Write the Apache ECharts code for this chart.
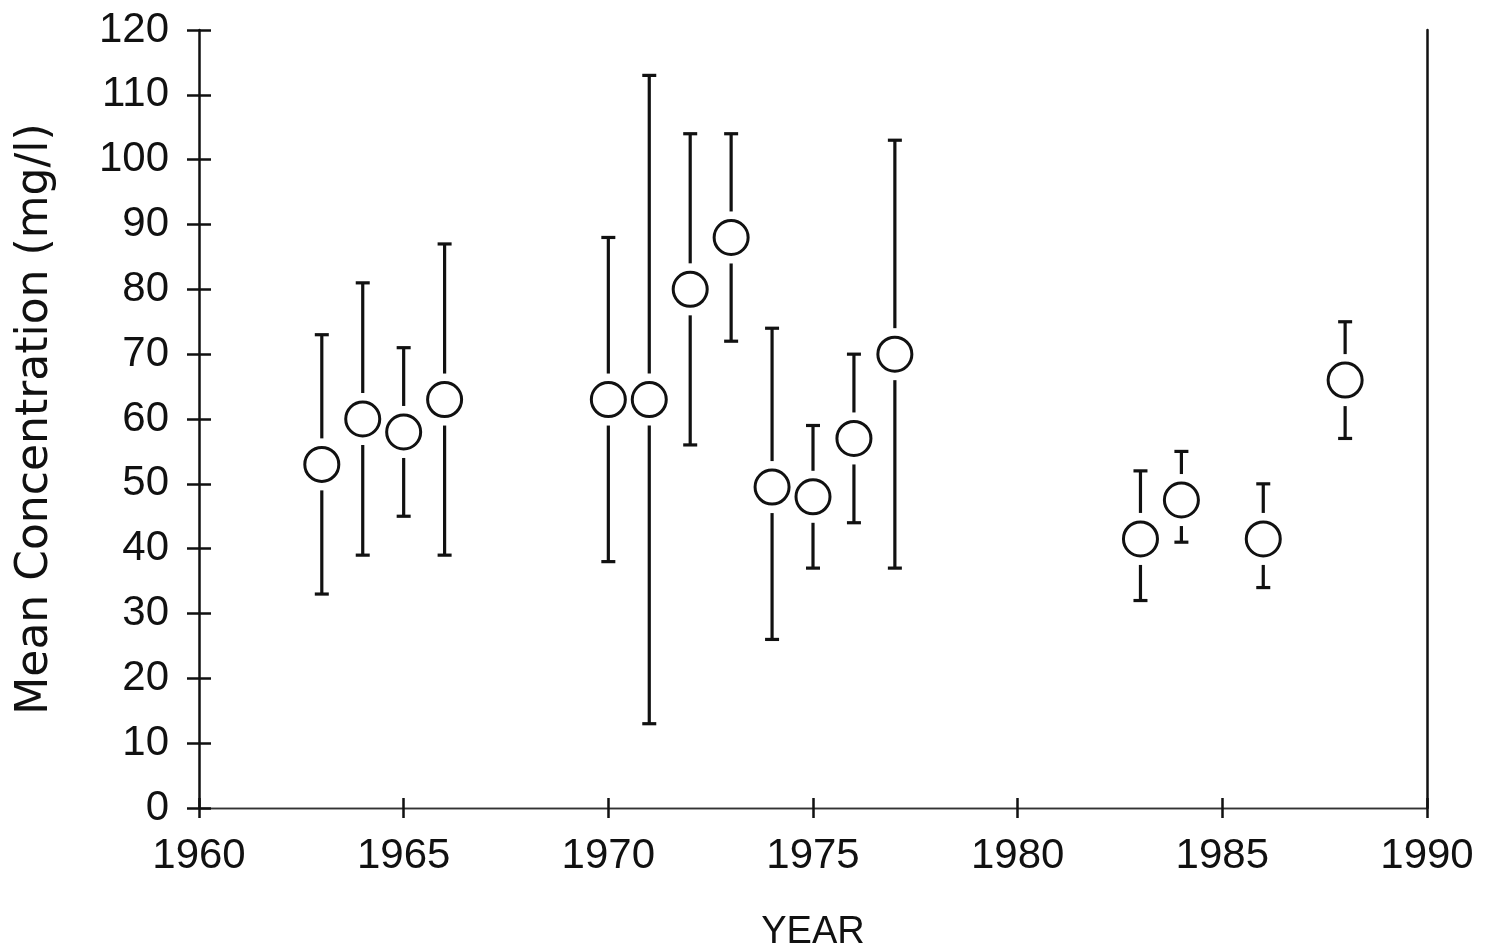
<!DOCTYPE html>
<html>
<head>
<meta charset="utf-8">
<script src="https://cdn.jsdelivr.net/npm/echarts@6/dist/echarts.min.js"></script>
<style>
html,body{margin:0;padding:0;background:#fff;}
#chart{width:1487px;height:947px;}
</style>
</head>
<body>
<div id="chart"></div>
<script>
// Data
var years = [1963, 1964, 1965, 1966, 1970, 1971, 1972, 1973, 1974, 1975, 1976, 1977, 1983, 1984, 1986, 1988];
var means = [53, 60, 58, 63, 63, 63, 80, 88, 49.5, 48, 57, 70, 41.5, 47.5, 41.5, 66];
var lows  = [33, 39, 45, 39, 38, 13, 56, 72, 26, 37, 44, 37, 32, 41, 34, 57];
var highs = [73, 81, 71, 87, 88, 113, 104, 104, 74, 59, 70, 103, 52, 55, 50, 75];
var xTicks = [1960, 1965, 1970, 1975, 1980, 1985, 1990];
var yTicks = [0, 10, 20, 30, 40, 50, 60, 70, 80, 90, 100, 110, 120];

var FONT = 'Liberation Sans, Arial, sans-serif';
var FONT_WIDE = 'DejaVu Sans, Verdana, sans-serif';
var INK = '#111';

var meanData = years.map(function (y, i) { return [y, means[i]]; });
var barData = years.map(function (y, i) { return [y, means[i], lows[i], highs[i]]; });

var R = 18, GAP = 8, CAP = 7;

function renderErr(params, api) {
  var c = api.coord([api.value(0), api.value(1)]);
  var lo = api.coord([api.value(0), api.value(2)]);
  var hi = api.coord([api.value(0), api.value(3)]);
  var x = c[0];
  var st = { stroke: INK, lineWidth: 3.2 };
  var kids = [];
  var topEnd = c[1] - R - GAP;
  var botStart = c[1] + R + GAP;
  if (hi[1] < topEnd) kids.push({ type: 'line', shape: { x1: x, y1: hi[1], x2: x, y2: topEnd }, style: st });
  if (lo[1] > botStart) kids.push({ type: 'line', shape: { x1: x, y1: botStart, x2: x, y2: lo[1] }, style: st });
  kids.push({ type: 'line', shape: { x1: x - CAP, y1: hi[1], x2: x + CAP, y2: hi[1] }, style: st });
  kids.push({ type: 'line', shape: { x1: x - CAP, y1: lo[1], x2: x + CAP, y2: lo[1] }, style: st });
  return { type: 'group', children: kids };
}

var chart = echarts.init(document.getElementById('chart'), null, { renderer: 'canvas' });
chart.setOption({
  backgroundColor: '#fff',
  animation: false,
  grid: { left: 199, right: 60, top: 30, bottom: 139, show: false, containLabel: false, outerBoundsMode: 'none' },
  xAxis: [{
    type: 'value', min: 1960, max: 1990, interval: 5, position: 'bottom',
    name: 'YEAR', nameLocation: 'middle', nameGap: 106,
    nameTextStyle: { fontFamily: FONT, fontSize: 38, color: INK },
    axisLine: { show: true, lineStyle: { color: '#333', width: 1.3 } },
    axisTick: { show: true, inside: false, length: 10, lineStyle: { color: INK, width: 2.5 } },
    axisLabel: { fontFamily: FONT, fontSize: 42, color: INK, margin: 27,
      formatter: function (v) { return xTicks.indexOf(v) >= 0 ? String(v) : ''; } },
    splitLine: { show: false }
  }, {
    type: 'value', min: 1960, max: 1990, interval: 5, position: 'bottom',
    axisLine: { show: false },
    axisTick: { show: true, inside: true, length: 10, lineStyle: { color: INK, width: 2.5 } },
    axisLabel: { show: false }, splitLine: { show: false }
  }, {
    type: 'value', min: 1960, max: 1990, position: 'top',
    axisLine: { show: true, lineStyle: { color: '#333', width: 1.3 } },
    axisTick: { show: false }, axisLabel: { show: false }, splitLine: { show: false }
  }],
  yAxis: [{
    type: 'value', min: 0, max: 120, interval: 10, position: 'left',
    name: 'Mean Concentration (mg/l)', nameLocation: 'middle', nameGap: 141,
    nameTextStyle: { fontFamily: FONT_WIDE, fontSize: 44, color: INK },
    axisLine: { show: true, lineStyle: { color: INK, width: 2.5 } },
    axisTick: { show: true, inside: false, length: 12, lineStyle: { color: INK, width: 2.5 } },
    axisLabel: { fontFamily: FONT, fontSize: 42, color: INK, margin: 30,
      formatter: function (v) { return yTicks.indexOf(v) >= 0 ? String(v) : ''; } },
    splitLine: { show: false }
  }, {
    type: 'value', min: 0, max: 120, interval: 10, position: 'left',
    axisLine: { show: false },
    axisTick: { show: true, inside: true, length: 12, lineStyle: { color: INK, width: 2.5 } },
    axisLabel: { show: false }, splitLine: { show: false }
  }, {
    type: 'value', min: 0, max: 120, position: 'right',
    axisLine: { show: true, lineStyle: { color: INK, width: 2.5 } },
    axisTick: { show: false }, axisLabel: { show: false }, splitLine: { show: false }
  }],
  series: [{
    type: 'custom', xAxisIndex: 0, yAxisIndex: 0,
    renderItem: renderErr, data: barData, z: 2,
    encode: { x: 0, y: [1, 2, 3] }
  }, {
    type: 'scatter', xAxisIndex: 0, yAxisIndex: 0,
    data: meanData, symbol: 'circle', symbolSize: 34, z: 3,
    itemStyle: { color: 'rgba(255,255,255,0)', borderColor: INK, borderWidth: 3, opacity: 1 }
  }]
});
</script>
</body>
</html>
